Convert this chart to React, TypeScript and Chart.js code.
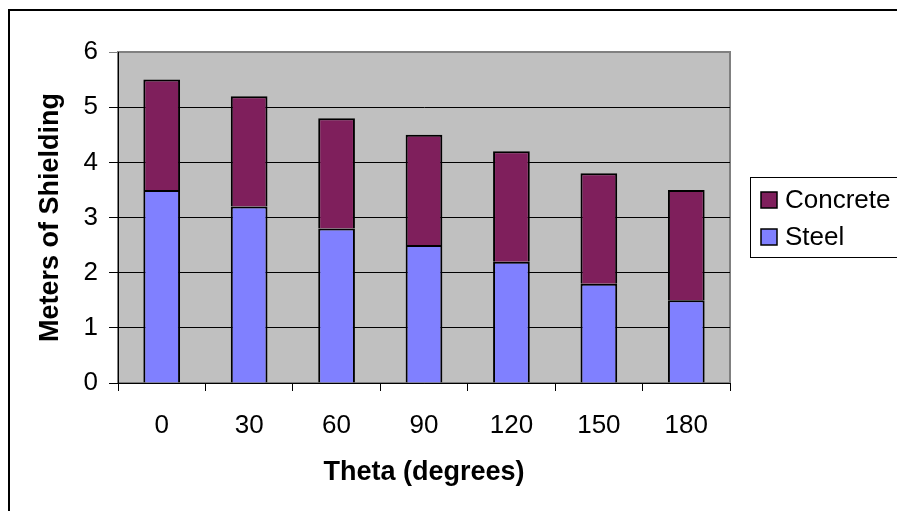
import React, { useEffect, useRef } from "react";
import { Chart, registerables } from "chart.js";

Chart.register(...registerables);

const categories = ["0", "30", "60", "90", "120", "150", "180"];
const steel = [3.5, 3.2, 2.8, 2.5, 2.2, 1.8, 1.5];
const concrete = [2.0, 2.0, 2.0, 2.0, 2.0, 2.0, 2.0];
const seriesNames = ["Steel", "Concrete"];
const yTitle = "Meters of Shielding";
const xTitle = "Theta (degrees)";

const FONT = '"Liberation Sans", Arial, sans-serif';
const STEEL_COLOR = "#8080FF";
const CONCRETE_COLOR = "#7F1F5C";
const PLOT_BG = "#C0C0C0";

const framePlugin = {
  id: "frame",
  beforeDraw(chart: any) {
    const { ctx, chartArea } = chart;
    const { left, top, right, bottom } = chartArea;
    ctx.save();
    ctx.fillStyle = "#ffffff";
    ctx.fillRect(0, 0, chart.width, chart.height);
    ctx.strokeStyle = "#000";
    ctx.lineWidth = 2;
    ctx.beginPath();
    ctx.moveTo(9, chart.height);
    ctx.lineTo(9, 10);
    ctx.lineTo(chart.width, 10);
    ctx.stroke();
    ctx.fillStyle = PLOT_BG;
    ctx.fillRect(left, top, right - left, bottom - top);
    ctx.strokeStyle = "#808080";
    ctx.lineWidth = 2;
    ctx.strokeRect(left, top, right - left, bottom - top);
    ctx.restore();
  },
  afterDraw(chart: any) {
    const { ctx } = chart;
    ctx.save();
    ctx.strokeStyle = "#000";
    ctx.lineWidth = 1;
    ctx.strokeRect(750.5, 177.5, 200, 80);
    const ds = chart.data.datasets.slice().reverse();
    ctx.font = `26px ${FONT}`;
    ctx.textBaseline = "middle";
    ctx.textAlign = "left";
    ds.forEach((d: any, i: number) => {
      const cy = 200 + i * 37;
      ctx.fillStyle = d.backgroundColor;
      ctx.fillRect(761, cy - 8, 16, 16);
      ctx.strokeStyle = "#000";
      ctx.lineWidth = 1.5;
      ctx.strokeRect(761, cy - 8, 16, 16);
      ctx.fillStyle = "#000";
      ctx.fillText(d.label, 785, cy + 1);
    });
    ctx.restore();
  },
};

export default function App() {
  const ref = useRef<HTMLCanvasElement | null>(null);
  useEffect(() => {
    if (!ref.current) return;
    const chart = new Chart(ref.current, {
      type: "bar",
      data: {
        labels: categories,
        datasets: [
          {
            label: seriesNames[0],
            data: steel,
            backgroundColor: STEEL_COLOR,
            borderColor: "#000",
            borderWidth: 2,
            barPercentage: 0.42,
            categoryPercentage: 1,
          },
          {
            label: seriesNames[1],
            data: concrete,
            backgroundColor: CONCRETE_COLOR,
            borderColor: "#000",
            borderWidth: 2,
            barPercentage: 0.42,
            categoryPercentage: 1,
          },
        ],
      },
      options: {
        animation: false,
        responsive: false,
        devicePixelRatio: 1,
        layout: { padding: { left: 0, top: 52, right: 167, bottom: 0 } },
        plugins: {
          legend: { display: false },
          tooltip: { enabled: false },
        },
        scales: {
          x: {
            stacked: true,
            afterFit(scale: any) {
              scale.height = 128;
            },
            grid: {
              drawOnChartArea: false,
              drawTicks: true,
              tickLength: 8,
              color: "#000",
              offset: true,
            },
            border: { color: "#000", width: 1 },
            ticks: {
              color: "#000",
              padding: 19,
              font: { family: FONT, size: 26 },
              maxRotation: 0,
            },
            title: {
              display: true,
              text: xTitle,
              color: "#000",
              font: { family: FONT, size: 27, weight: "bold" },
              padding: { top: 0, bottom: 22 },
            },
          },
          y: {
            stacked: true,
            min: 0,
            max: 6,
            afterFit(scale: any) {
              scale.width = 118;
            },
            grid: {
              color: (c: any) => (c.tick && c.tick.value === 6 ? "#808080" : "#000"),
              tickLength: 9,
            },
            border: { color: "#000", width: 1 },
            ticks: {
              stepSize: 1,
              color: "#000",
              padding: 11,
              font: { family: FONT, size: 26 },
            },
            title: {
              display: true,
              text: yTitle,
              color: "#000",
              font: { family: FONT, size: 27, weight: "bold" },
              padding: { top: 34, bottom: 0 },
            },
          },
        },
      },
      plugins: [framePlugin],
    });
    return () => chart.destroy();
  }, []);
  return (
    <div style={{ position: "absolute", left: 0, top: 0, width: 897, height: 511 }}>
      <canvas ref={ref} width={897} height={511} style={{ display: "block" }} />
    </div>
  );
}
